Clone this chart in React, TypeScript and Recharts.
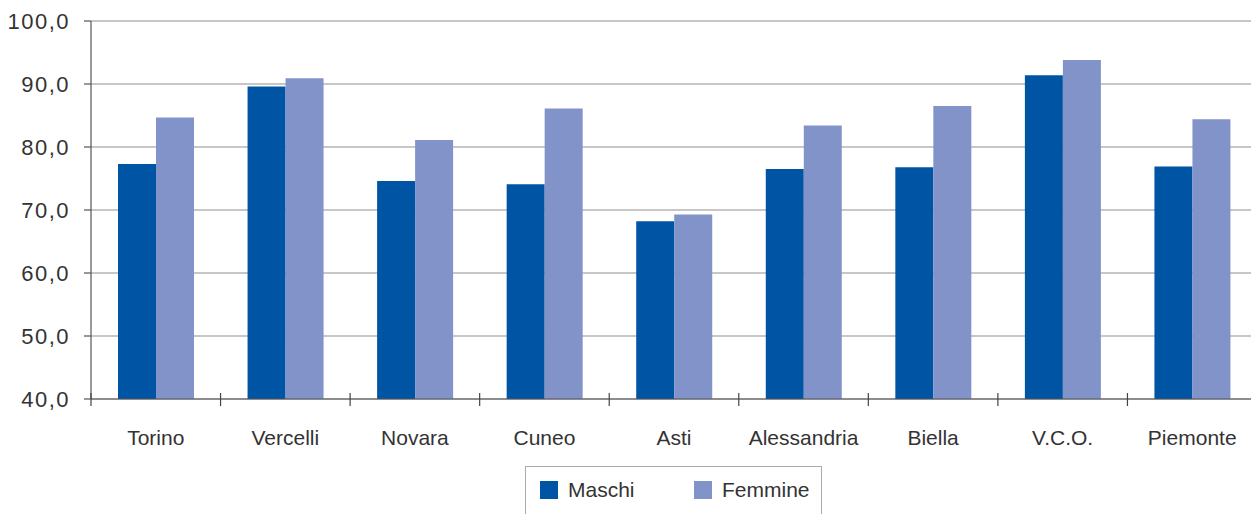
import React from 'react';
import { BarChart, Bar, XAxis, YAxis, CartesianGrid } from 'recharts';

// Province names (categories)
const provinces: string[] = ['Torino', 'Vercelli', 'Novara', 'Cuneo', 'Asti', 'Alessandria', 'Biella', 'V.C.O.', 'Piemonte'];

// Values
const maschi: number[] = [77.3, 89.6, 74.6, 74.1, 68.2, 76.5, 76.8, 91.4, 76.9];
const femmine: number[] = [84.7, 90.9, 81.1, 86.1, 69.3, 83.4, 86.5, 93.8, 84.4];

const yTicks: number[] = [40, 50, 60, 70, 80, 90, 100];

const seriesNames = ['Maschi', 'Femmine'];
const seriesColors = ['#0054a4', '#8193c8'];

const data = provinces.map((name, i) => ({ name, maschi: maschi[i], femmine: femmine[i] }));

const FONT = '"Liberation Sans", Arial, sans-serif';
const CHART_W = 1257;
const CHART_H = 460;
const Y_W = 91;
const BAND = (CHART_W - Y_W) / provinces.length;

// category label + the tick marks that sit between categories
const CategoryTick = (props: any) => {
  const { x, y, payload } = props;
  const edge = x - BAND / 2;
  return (
    <g>
      <line x1={edge} x2={edge} y1={y - 6} y2={y + 7} stroke="#444" strokeWidth={1.2} />
      <text x={x} y={y + 46} textAnchor="middle" fill="#333" fontSize={21} fontFamily={FONT}>
        {payload.value}
      </text>
    </g>
  );
};

export default function App() {
  return (
    <div style={{ position: 'absolute', left: 0, top: 0, width: 1251, height: 514, overflow: 'hidden', background: '#fff' }}>
      <BarChart
        width={CHART_W}
        height={CHART_H}
        data={data}
        margin={{ top: 21, right: 0, bottom: 0, left: 0 }}
        barSize={38}
        barGap={0}
      >
        <CartesianGrid vertical={false} stroke="#b5b5b5" strokeWidth={1.5} />
        <XAxis
          dataKey="name"
          height={CHART_H - 21 - 378}
          interval={0}
          tickSize={0}
          tickMargin={0}
          axisLine={{ stroke: '#555', strokeWidth: 1.2 }}
          tick={<CategoryTick />}
        />
        <YAxis
          width={Y_W}
          domain={[40, 100]}
          ticks={yTicks}
          interval={0}
          tickSize={7}
          tickMargin={14}
          axisLine={{ stroke: '#555', strokeWidth: 1.2 }}
          tickLine={{ stroke: '#555', strokeWidth: 1.2 }}
          tickFormatter={(v: number) => v.toFixed(1).replace('.', ',')}
          tick={{ fontSize: 22, fill: '#333', fontFamily: FONT, letterSpacing: 1.5 }}
        />
        <Bar dataKey="maschi" name={seriesNames[0]} fill={seriesColors[0]} isAnimationActive={false} />
        <Bar dataKey="femmine" name={seriesNames[1]} fill={seriesColors[1]} isAnimationActive={false} />
      </BarChart>

      {/* legend box */}
      <div
        style={{
          position: 'absolute',
          left: 525,
          top: 466,
          width: 297,
          height: 60,
          border: '1px solid #aaa',
          boxSizing: 'border-box',
          fontFamily: FONT,
          fontSize: 21,
          color: '#333',
        }}
      >
        {seriesNames.map((name, i) => (
          <div
            key={name}
            style={{ position: 'absolute', left: i === 0 ? 14 : 168, top: 13, display: 'flex', alignItems: 'center' }}
          >
            <div style={{ width: 18, height: 18, background: seriesColors[i], marginRight: 10 }} />
            <span style={{ lineHeight: '20px' }}>{name}</span>
          </div>
        ))}
      </div>
    </div>
  );
}
